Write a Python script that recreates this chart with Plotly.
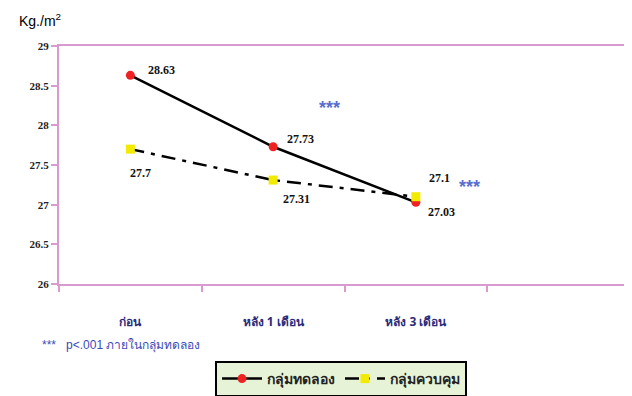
import plotly.graph_objects as go

categories = ["ก่อน", "หลัง 1 เดือน", "หลัง 3 เดือน", " "]
experimental = [28.63, 27.73, 27.03]
control = [27.7, 27.31, 27.1]
exp_name = "กลุ่มทดลอง"
ctl_name = "กลุ่มควบคุม"
y_ticks = [26, 26.5, 27, 27.5, 28, 28.5, 29]
y_tick_labels = ["26", "26.5", "27", "27.5", "28", "28.5", "29"]

PINK = "#d99ad0"
LABEL_FONT = dict(family="Liberation Serif", size=12, color="#111111")

fig = go.Figure()
fig.add_trace(go.Scatter(
    x=categories[:3], y=experimental, name=exp_name, mode="lines+markers",
    line=dict(color="black", width=2.5),
    marker=dict(symbol="circle", size=9, color="#ee2222"),
    legendrank=1,
))
fig.add_trace(go.Scatter(
    x=categories[:3], y=control, name=ctl_name, mode="lines+markers",
    line=dict(color="black", width=2.5, dash="14px,7px,4px,7px"),
    marker=dict(symbol="square", size=9, color="#f2ea00"),
    legendrank=2,
))

# value labels (offsets in pixels)
exp_off = [(16, 5), (12, 8), (10, -10)]
ctl_off = [(-2, -24), (8, -19), (11, 19)]
for i, v in enumerate(experimental):
    fig.add_annotation(x=categories[i], y=v, text=f"<b>{v}</b>", showarrow=False,
                       xanchor="left", yanchor="middle", xshift=exp_off[i][0],
                       yshift=exp_off[i][1], font=LABEL_FONT)
for i, v in enumerate(control):
    fig.add_annotation(x=categories[i], y=v, text=f"<b>{v}</b>", showarrow=False,
                       xanchor="left", yanchor="middle", xshift=ctl_off[i][0],
                       yshift=ctl_off[i][1], font=LABEL_FONT)

# significance marks
sig_marks = [(1.395, 28.27), (2.374, 27.27)]
for sx, sy in sig_marks:
    fig.add_annotation(x=sx, y=sy, text="<b>***</b>", showarrow=False, yshift=-4,
                       font=dict(family="Liberation Sans", size=18, color="#5a6fd0"))

fig.add_annotation(xref="paper", yref="paper", x=(17-59)/571, y=1 + 26/238,
                   xanchor="left", yanchor="middle", showarrow=False,
                   text="Kg./m<sup>2</sup>",
                   font=dict(family="Liberation Sans", size=14, color="black"))
fig.add_annotation(xref="paper", yref="paper", x=(40-59)/571, y=(284-345)/238,
                   xanchor="left", yanchor="middle", showarrow=False,
                   text="***   p<.001 ภายในกลุ่มทดลอง",
                   font=dict(family="Liberation Sans", size=12, color="#3b4bb8"))

fig.update_xaxes(
    type="category", categoryorder="array", categoryarray=categories,
    range=[-0.5, 3.5], tickson="boundaries", ticks="outside", ticklen=6,
    tickcolor=PINK, tickwidth=1.5, showline=True, linecolor=PINK, linewidth=2,
    mirror=True, showgrid=False, ticklabelstandoff=26, automargin=False,
    tickfont=dict(family="Noto Sans", size=12, color="#2b2b7a", weight="bold"),
)
fig.update_yaxes(
    range=[26, 29], tickvals=y_ticks, ticktext=y_tick_labels, ticks="outside",
    ticklen=6, tickcolor=PINK, tickwidth=1.5, showline=True, linecolor=PINK,
    linewidth=2, mirror=True, showgrid=False, zeroline=False, automargin=False,
    tickfont=dict(family="Liberation Serif", size=11, color="#222222", weight="bold"),
)
# page body adds an 8px offset, so the figure is sized to the visible area
fig.update_layout(
    width=624, height=388,
    margin=dict(l=51, r=2, t=38, b=112, autoexpand=False),
    paper_bgcolor="white", plot_bgcolor="white",
    showlegend=True,
    legend=dict(orientation="h", x=(215-59)/571, y=(284-361)/238,
                xanchor="left", yanchor="top", bgcolor="#e6f3d6",
                bordercolor="black", borderwidth=2,
                font=dict(family="Noto Sans", size=14, color="#222222", weight="bold"),
                itemwidth=40, tracegroupgap=0),
)
fig.write_html("out.html")
